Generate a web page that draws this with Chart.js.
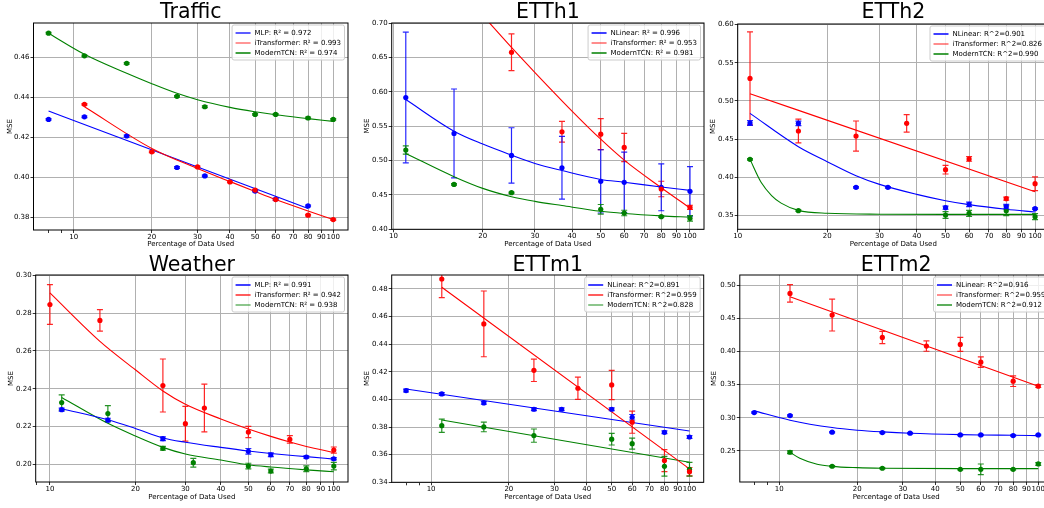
<!DOCTYPE html>
<html><head><meta charset="utf-8">
<script src="https://cdn.jsdelivr.net/npm/chart.js@4.4.1/dist/chart.umd.min.js"></script>
<style>
html,body{margin:0;padding:0;background:#fff;overflow:hidden;}
#wrap{position:relative;width:1044px;height:508px;overflow:hidden;background:#fff;}
#wrap canvas{position:absolute;}
</style></head><body><div id="wrap"></div>
<script>
// ================= DATA =================
const xTickValues = [8, 9, 10, 20, 30, 40, 50, 60, 70, 80, 90, 100];

// ---- Traffic ----
const trafficMlpX = [8, 11, 16, 25, 32, 50, 60, 80];
const trafficMlpY = [0.4290, 0.4303, 0.4207, 0.4050, 0.4008, 0.3932, 0.3892, 0.3858];
const trafficMlpErr = [0.0004, 0.0004, 0.0004, 0.0004, 0.0004, 0.0004, 0.0004, 0.0004];
const trafficMlpFitX = [8, 80];
const trafficMlpFitY = [0.4332, 0.3845];
const trafficItX = [11, 20, 30, 40, 50, 60, 80, 100];
const trafficItY = [0.4365, 0.4128, 0.4053, 0.3978, 0.3937, 0.3890, 0.3812, 0.3790];
const trafficItErr = [0.0004, 0.0004, 0.0004, 0.0004, 0.0004, 0.0004, 0.0004, 0.0004];
const trafficItFitX = [11, 20, 30, 40, 50, 60, 80, 100];
const trafficItFitY = [0.4353, 0.4145, 0.4045, 0.3980, 0.3930, 0.3890, 0.3833, 0.3790];
const trafficTcnX = [8, 11, 16, 25, 32, 50, 60, 80, 100];
const trafficTcnY = [0.4720, 0.4607, 0.4570, 0.4405, 0.4353, 0.4315, 0.4315, 0.4297, 0.4290];
const trafficTcnErr = [0.0004, 0.0004, 0.0004, 0.0004, 0.0004, 0.0004, 0.0004, 0.0004, 0.0004];
const trafficTcnFitX = [8, 11, 16, 20, 25, 30, 40, 50, 60, 80, 100];
const trafficTcnFitY = [0.4720, 0.4615, 0.4520, 0.4468, 0.4420, 0.4388, 0.4350, 0.4328, 0.4313, 0.4294, 0.4280];
const trafficLabels = ['MLP: R\u00B2 = 0.972', 'iTransformer: R\u00B2 = 0.993', 'ModernTCN: R\u00B2 = 0.974'];
const trafficYTicks = [0.38, 0.40, 0.42, 0.44, 0.46];

// ---- ETTh1 ----
const etth1NlX = [11, 16, 25, 37, 50, 60, 80, 100];
const etth1NlY = [0.5916, 0.5394, 0.5074, 0.4895, 0.4697, 0.4683, 0.4610, 0.4552];
const etth1NlErr = [0.0950, 0.0646, 0.0403, 0.0457, 0.0460, 0.0440, 0.0340, 0.0360];
const etth1NlFitX = [11, 16, 20, 25, 30, 37, 50, 60, 80, 100];
const etth1NlFitY = [0.5887, 0.5427, 0.5239, 0.5079, 0.4958, 0.4855, 0.4725, 0.4685, 0.4615, 0.4566];
const etth1ItX = [25, 37, 50, 60, 80, 100];
const etth1ItY = [0.6574, 0.5418, 0.5384, 0.5190, 0.4586, 0.4320];
const etth1ItErr = [0.0267, 0.0150, 0.0225, 0.0205, 0.0113, 0.0030];
const etth1ItFitX = [20, 25, 30, 40, 50, 60, 80, 100];
const etth1ItFitY = [0.7110, 0.6645, 0.6280, 0.5720, 0.5310, 0.5006, 0.4605, 0.4310];
const etth1TcnX = [11, 16, 25, 50, 60, 80, 100];
const etth1TcnY = [0.5152, 0.4653, 0.4532, 0.4291, 0.4237, 0.4184, 0.4160];
const etth1TcnErr = [0.0060, 0.0010, 0.0010, 0.0070, 0.0040, 0.0010, 0.0040];
const etth1TcnFitX = [11, 16, 20, 25, 30, 37, 50, 60, 80, 100];
const etth1TcnFitY = [0.5103, 0.4765, 0.4595, 0.4474, 0.4406, 0.4345, 0.4262, 0.4230, 0.4195, 0.4176];
const etth1Labels = ['NLinear: R\u00B2 = 0.996', 'iTransformer: R\u00B2 = 0.953', 'ModernTCN: R\u00B2 = 0.981'];
const etth1YTicks = [0.40, 0.45, 0.50, 0.55, 0.60, 0.65, 0.70];

// ---- ETTh2 ----
const etth2NlX = [11, 16, 25, 32, 50, 60, 80, 100];
const etth2NlY = [0.4711, 0.4706, 0.3867, 0.3867, 0.3600, 0.3644, 0.3614, 0.3587];
const etth2NlErr = [0.003, 0.003, 0.001, 0.001, 0.002, 0.003, 0.003, 0.001];
const etth2NlFitX = [11, 16, 20, 25, 30, 40, 50, 60, 80, 100];
const etth2NlFitY = [0.4837, 0.4400, 0.4204, 0.4020, 0.3906, 0.3775, 0.3692, 0.3640, 0.3579, 0.3544];
const etth2ItX = [11, 16, 25, 37, 50, 60, 80, 100];
const etth2ItY = [0.5296, 0.4606, 0.4540, 0.4706, 0.4099, 0.4239, 0.3718, 0.3915];
const etth2ItErr = [0.0610, 0.0155, 0.0197, 0.0114, 0.0057, 0.0030, 0.0020, 0.0090];
const etth2ItFitX = [11, 100];
const etth2ItFitY = [0.5095, 0.3810];
const etth2TcnX = [11, 16, 50, 60, 80, 100];
const etth2TcnY = [0.4234, 0.3561, 0.3504, 0.3526, 0.3561, 0.3483];
const etth2TcnErr = [0.0010, 0.0010, 0.0045, 0.0040, 0.0065, 0.0040];
const etth2TcnFitX = [11, 12, 13, 14, 16, 20, 30, 50, 100];
const etth2TcnFitY = [0.4234, 0.3930, 0.3760, 0.3660, 0.3565, 0.3527, 0.3515, 0.3513, 0.3513];
const etth2Labels = ['NLinear: R^2=0.901', 'iTransformer: R^2=0.826', 'ModernTCN: R^2=0.990'];
const etth2YTicks = [0.35, 0.40, 0.45, 0.50, 0.55, 0.60];

// ---- Weather ----
const weatherMlpX = [11, 16, 25, 50, 60, 80, 100];
const weatherMlpY = [0.2289, 0.2234, 0.2136, 0.2069, 0.2051, 0.2039, 0.2030];
const weatherMlpErr = [0.0008, 0.0010, 0.0010, 0.0015, 0.0010, 0.0006, 0.0006];
const weatherMlpFitX = [11, 16, 20, 25, 30, 40, 50, 60, 80, 100];
const weatherMlpFitY = [0.2294, 0.2236, 0.2190, 0.2140, 0.2117, 0.2090, 0.2071, 0.2058, 0.2041, 0.2028];
const weatherItX = [10, 15, 25, 30, 35, 50, 70, 100];
const weatherItY = [0.2845, 0.2761, 0.2417, 0.2215, 0.2298, 0.2171, 0.2132, 0.2076];
const weatherItErr = [0.0105, 0.0057, 0.0140, 0.0092, 0.0126, 0.0030, 0.0020, 0.0016];
const weatherItFitX = [10, 15, 20, 25, 30, 40, 50, 60, 70, 80, 100];
const weatherItFitY = [0.2906, 0.2650, 0.2500, 0.2388, 0.2318, 0.2240, 0.2187, 0.2148, 0.2118, 0.2095, 0.2063];
const weatherTcnX = [11, 16, 25, 32, 50, 60, 80, 100];
const weatherTcnY = [0.2327, 0.2269, 0.2085, 0.2009, 0.1991, 0.1965, 0.1977, 0.1991];
const weatherTcnErr = [0.0040, 0.0042, 0.0010, 0.0023, 0.0015, 0.0010, 0.0015, 0.0020];
const weatherTcnFitX = [11, 16, 20, 25, 30, 40, 50, 60, 80, 100];
const weatherTcnFitY = [0.2354, 0.2217, 0.2150, 0.2090, 0.2055, 0.2023, 0.1998, 0.1986, 0.1971, 0.1961];
const weatherLabels = ['MLP: R\u00B2 = 0.991', 'iTransformer: R\u00B2 = 0.942', 'ModernTCN: R\u00B2 = 0.938'];
const weatherYTicks = [0.20, 0.22, 0.24, 0.26, 0.28, 0.30];

// ---- ETTm1 ----
const ettm1NlX = [8, 11, 16, 25, 32, 50, 60, 80, 100];
const ettm1NlY = [0.4064, 0.4040, 0.3975, 0.3929, 0.3929, 0.3929, 0.3871, 0.3762, 0.3728];
const ettm1NlErr = [0.001, 0.001, 0.001, 0.001, 0.001, 0.001, 0.002, 0.001, 0.001];
const ettm1NlFitX = [8, 100];
const ettm1NlFitY = [0.4076, 0.3772];
const ettm1ItX = [11, 16, 25, 37, 50, 60, 80, 100];
const ettm1ItY = [0.4872, 0.4547, 0.4211, 0.4081, 0.4105, 0.3835, 0.3557, 0.3477];
const ettm1ItErr = [0.0135, 0.0238, 0.0081, 0.0080, 0.0106, 0.0080, 0.0080, 0.0030];
const ettm1ItFitX = [11, 100];
const ettm1ItFitY = [0.4812, 0.3497];
const ettm1TcnX = [11, 16, 25, 50, 60, 80, 100];
const ettm1TcnY = [0.3810, 0.3801, 0.3738, 0.3712, 0.3680, 0.3516, 0.3494];
const ettm1TcnErr = [0.0048, 0.0035, 0.0048, 0.0042, 0.0040, 0.0072, 0.0050];
const ettm1TcnFitX = [11, 100];
const ettm1TcnFitY = [0.3851, 0.3545];
const ettm1Labels = ['NLinear: R^2=0.891', 'iTransformer: R^2=0.959', 'ModernTCN: R^2=0.828'];
const ettm1YTicks = [0.34, 0.36, 0.38, 0.40, 0.42, 0.44, 0.46, 0.48];

// ---- ETTm2 ----
const ettm2NlX = [8, 11, 16, 25, 32, 50, 60, 80, 100];
const ettm2NlY = [0.3078, 0.3033, 0.2782, 0.2777, 0.2767, 0.2741, 0.2741, 0.2731, 0.2741];
const ettm2NlErr = [0.001, 0.001, 0.001, 0.001, 0.001, 0.001, 0.001, 0.001, 0.001];
const ettm2NlFitX = [8, 11, 16, 20, 25, 32, 50, 60, 80, 100];
const ettm2NlFitY = [0.3104, 0.2963, 0.2852, 0.2812, 0.2787, 0.2767, 0.2746, 0.2741, 0.2736, 0.2731];
const ettm2ItX = [11, 16, 25, 37, 50, 60, 80, 100];
const ettm2ItY = [0.4874, 0.4547, 0.4210, 0.4080, 0.4105, 0.3838, 0.3551, 0.3476];
const ettm2ItErr = [0.0133, 0.0240, 0.0093, 0.0078, 0.0105, 0.0078, 0.0080, 0.0020];
const ettm2ItFitX = [11, 100];
const ettm2ItFitY = [0.4824, 0.3476];
const ettm2TcnX = [11, 16, 25, 50, 60, 80, 100];
const ettm2TcnY = [0.2480, 0.2269, 0.2239, 0.2223, 0.2223, 0.2223, 0.2304];
const ettm2TcnErr = [0.002, 0.001, 0.001, 0.001, 0.008, 0.001, 0.002];
const ettm2TcnFitX = [11, 12, 14, 16, 20, 25, 50, 100];
const ettm2TcnFitY = [0.2480, 0.2390, 0.2300, 0.2268, 0.2248, 0.2239, 0.2233, 0.2233];
const ettm2Labels = ['NLinear: R^2=0.916', 'iTransformer: R^2=0.959', 'ModernTCN: R^2=0.912'];
const ettm2YTicks = [0.25, 0.30, 0.35, 0.40, 0.45, 0.50];

// ================= STYLE / LAYOUT =================
const BLUE = '#0000ff', RED = '#ff0000', GREEN = '#008000';
function rgba(hex, a) {
  const n = parseInt(hex.slice(1), 16);
  return 'rgba(' + ((n >> 16) & 255) + ',' + ((n >> 8) & 255) + ',' + (n & 255) + ',' + a + ')';
}
Chart.defaults.font.family = '"DejaVu Sans", sans-serif';
Chart.defaults.color = '#000';

function series(label, color, x, y, err, fitX, fitY, handleAlpha) {
  return {label, color, x, y, err, fitX, fitY, handleAlpha};
}

const panels = [
  { title: 'Traffic', xMin: 7.0, xMax: 114, yMin: 0.3738, yMax: 0.4771, yTicks: trafficYTicks,
    geom: {cl: 0, ct: 0, cw: 352, ch: 252, aL: 33.5, aR: 348, aT: 23, aB: 230, titleCY: 12.2, xLabelCY: 244.3, yLabelCX: 10},
    series: [
      series(trafficLabels[1], RED, trafficItX, trafficItY, trafficItErr, trafficItFitX, trafficItFitY, 0.55),
      series(trafficLabels[0], BLUE, trafficMlpX, trafficMlpY, trafficMlpErr, trafficMlpFitX, trafficMlpFitY, 0.85),
      series(trafficLabels[2], GREEN, trafficTcnX, trafficTcnY, trafficTcnErr, trafficTcnFitX, trafficTcnFitY, 1),
    ], legendOrder: [1, 0, 2] },
  { title: 'ETTh1', xMin: 9.86, xMax: 111.5, yMin: 0.40, yMax: 0.70, yTicks: etth1YTicks,
    geom: {cl: 355, ct: 0, cw: 352, ch: 252, aL: 391.7, aR: 704, aT: 23, aB: 229.3, titleCY: 12.3, xLabelCY: 244.3, yLabelCX: 367.3},
    series: [
      series(etth1Labels[1], RED, etth1ItX, etth1ItY, etth1ItErr, etth1ItFitX, etth1ItFitY, 0.6),
      series(etth1Labels[0], BLUE, etth1NlX, etth1NlY, etth1NlErr, etth1NlFitX, etth1NlFitY, 1),
      series(etth1Labels[2], GREEN, etth1TcnX, etth1TcnY, etth1TcnErr, etth1TcnFitX, etth1TcnFitY, 1),
    ], legendOrder: [1, 0, 2] },
  { title: 'ETTh2', xMin: 10, xMax: 111.4, yMin: 0.3317, yMax: 0.6009, yTicks: etth2YTicks,
    geom: {cl: 700, ct: 0, cw: 360, ch: 252, aL: 737.7, aR: 1049, aT: 24, aB: 229.3, titleCY: 12.3, xLabelCY: 244.3, yLabelCX: 713.3},
    series: [
      series(etth2Labels[1], RED, etth2ItX, etth2ItY, etth2ItErr, etth2ItFitX, etth2ItFitY, 0.6),
      series(etth2Labels[0], BLUE, etth2NlX, etth2NlY, etth2NlErr, etth2NlFitX, etth2NlFitY, 1),
      series(etth2Labels[2], GREEN, etth2TcnX, etth2TcnY, etth2TcnErr, etth2TcnFitX, etth2TcnFitY, 1),
    ], legendOrder: [1, 0, 2] },
  { title: 'Weather', xMin: 8.91, xMax: 112.2, yMin: 0.1907, yMax: 0.3001, yTicks: weatherYTicks,
    geom: {cl: 0, ct: 252, cw: 352, ch: 256, aL: 35.7, aR: 348, aT: 275, aB: 482, titleCY: 265.4, xLabelCY: 497.3, yLabelCX: 11},
    series: [
      series(weatherLabels[1], RED, weatherItX, weatherItY, weatherItErr, weatherItFitX, weatherItFitY, 0.85),
      series(weatherLabels[0], BLUE, weatherMlpX, weatherMlpY, weatherMlpErr, weatherMlpFitX, weatherMlpFitY, 1),
      series(weatherLabels[2], GREEN, weatherTcnX, weatherTcnY, weatherTcnErr, weatherTcnFitX, weatherTcnFitY, 0.6),
    ], legendOrder: [1, 0, 2] },
  { title: 'ETTm1', xMin: 7.04, xMax: 113.5, yMin: 0.34, yMax: 0.4901, yTicks: ettm1YTicks,
    geom: {cl: 355, ct: 252, cw: 352, ch: 256, aL: 391.7, aR: 703.7, aT: 275, aB: 482.3, titleCY: 265.4, xLabelCY: 497.3, yLabelCX: 367.3},
    series: [
      series(ettm1Labels[1], RED, ettm1ItX, ettm1ItY, ettm1ItErr, ettm1ItFitX, ettm1ItFitY, 0.85),
      series(ettm1Labels[0], BLUE, ettm1NlX, ettm1NlY, ettm1NlErr, ettm1NlFitX, ettm1NlFitY, 1),
      series(ettm1Labels[2], GREEN, ettm1TcnX, ettm1TcnY, ettm1TcnErr, ettm1TcnFitX, ettm1TcnFitY, 0.6),
    ], legendOrder: [1, 0, 2] },
  { title: 'ETTm2', xMin: 7.04, xMax: 113.5, yMin: 0.2032, yMax: 0.5151, yTicks: ettm2YTicks,
    geom: {cl: 700, ct: 252, cw: 360, ch: 256, aL: 739.8, aR: 1052.5, aT: 275, aB: 482, titleCY: 265.4, xLabelCY: 497.3, yLabelCX: 714},
    series: [
      series(ettm2Labels[1], RED, ettm2ItX, ettm2ItY, ettm2ItErr, ettm2ItFitX, ettm2ItFitY, 0.6),
      series(ettm2Labels[0], BLUE, ettm2NlX, ettm2NlY, ettm2NlErr, ettm2NlFitX, ettm2NlFitY, 1),
      series(ettm2Labels[2], GREEN, ettm2TcnX, ettm2TcnY, ettm2TcnErr, ettm2TcnFitX, ettm2TcnFitY, 0.85),
    ], legendOrder: [1, 0, 2] },
];

// ================= PLUGINS =================
const errorBarPlugin = {
  id: 'errorBars',
  beforeDatasetsDraw(chart) {
    const {ctx, chartArea: a} = chart;
    const xs = chart.scales.x, ys = chart.scales.y;
    ctx.save();
    ctx.beginPath(); ctx.rect(a.left, a.top, a.right - a.left, a.bottom - a.top); ctx.clip();
    chart.data.datasets.forEach(ds => {
      if (!ds.errors) return;
      ctx.strokeStyle = rgba(ds.errColor, 0.85);
      ctx.lineWidth = 1.2;
      ds.data.forEach((pt, i) => {
        const e = ds.errors[i];
        if (!e) return;
        const px = xs.getPixelForValue(pt.x);
        const p1 = ys.getPixelForValue(pt.y - e), p2 = ys.getPixelForValue(pt.y + e);
        ctx.beginPath();
        ctx.moveTo(px, p1); ctx.lineTo(px, p2);
        ctx.moveTo(px - 3, p1); ctx.lineTo(px + 3, p1);
        ctx.moveTo(px - 3, p2); ctx.lineTo(px + 3, p2);
        ctx.stroke();
      });
    });
    ctx.restore();
  }
};

const framePlugin = {
  id: 'frame',
  afterDatasetsDraw(chart) {
    const {ctx, chartArea: a} = chart;
    ctx.save();
    ctx.strokeStyle = '#000';
    ctx.lineWidth = 1;
    ctx.strokeRect(a.left, a.top, a.right - a.left, a.bottom - a.top);
    ctx.restore();
  }
};

const boxLegendPlugin = {
  id: 'boxLegend',
  afterDraw(chart, args, opts) {
    const items = opts.items || [];
    const {ctx, chartArea: a} = chart;
    ctx.save();
    ctx.font = '7px "DejaVu Sans"';
    let maxW = 0;
    items.forEach(it => { maxW = Math.max(maxW, ctx.measureText(it.label).width); });
    const pad = 3.5, handle = 15, gap = 4;
    const w = pad + handle + gap + maxW + pad;
    const h = 35;
    const right = a.right - 3.5, top = a.top + 2;
    const left = right - w;
    ctx.beginPath();
    if (ctx.roundRect) ctx.roundRect(left, top, w, h, 2); else ctx.rect(left, top, w, h);
    ctx.fillStyle = 'rgba(255,255,255,0.8)';
    ctx.fill();
    ctx.strokeStyle = '#cccccc';
    ctx.lineWidth = 1;
    ctx.stroke();
    items.forEach((it, i) => {
      const y = top + 8 + 10 * i;
      ctx.strokeStyle = rgba(it.color, it.alpha);
      ctx.lineWidth = 1.5;
      ctx.beginPath();
      ctx.moveTo(left + pad, y); ctx.lineTo(left + pad + handle, y);
      ctx.stroke();
      ctx.fillStyle = '#000';
      ctx.textBaseline = 'middle';
      ctx.textAlign = 'left';
      ctx.fillText(it.label, left + pad + handle + gap, y);
    });
    ctx.restore();
  }
};

// ================= BUILD =================
const wrap = document.getElementById('wrap');
function buildChart(p) {
  const g = p.geom;
  const cv = document.createElement('canvas');
  cv.width = g.cw; cv.height = g.ch;
  cv.style.left = g.cl + 'px'; cv.style.top = g.ct + 'px';
  cv.style.width = g.cw + 'px'; cv.style.height = g.ch + 'px';
  wrap.appendChild(cv);

  const datasets = [];
  p.series.forEach(s => {
    datasets.push({
      label: s.label,
      data: s.x.map((v, i) => ({x: v, y: s.y[i]})),
      errors: s.err, errColor: s.color,
      showLine: false, pointRadius: 2.6, pointHoverRadius: 2.6,
      pointBackgroundColor: s.color, pointBorderWidth: 0,
      borderColor: s.color, backgroundColor: s.color
    });
  });
  p.series.forEach(s => {
    datasets.push({
      label: s.label + ' fit',
      data: s.fitX.map((v, i) => ({x: v, y: s.fitY[i]})),
      showLine: true, pointRadius: 0, pointHoverRadius: 0,
      borderColor: s.color, borderWidth: 1.1,
      cubicInterpolationMode: 'monotone', fill: false
    });
  });

  const LH = 19, FS = 20.5;
  const padTop = Math.max(0, g.titleCY - g.ct - LH / 2);
  const padBottom = Math.max(0, (g.aT - g.ct) - LH - padTop);
  const legendItems = p.legendOrder.map(i => ({label: p.series[i].label, color: p.series[i].color, alpha: p.series[i].handleAlpha}));

  new Chart(cv, {
    type: 'line',
    data: {datasets},
    options: {
      responsive: false, animation: false, devicePixelRatio: 1, events: [],
      layout: {padding: {left: 0, top: 0, right: (g.cl + g.cw) - g.aR, bottom: 0}},
      plugins: {
        legend: {display: false},
        tooltip: {enabled: false},
        title: {display: true, text: p.title, fullSize: false, color: '#000',
                font: {size: FS, lineHeight: LH / FS, weight: 'normal'},
                padding: {top: padTop, bottom: padBottom}},
        boxLegend: {items: legendItems}
      },
      scales: {
        x: {
          type: 'logarithmic', position: 'bottom', min: p.xMin, max: p.xMax,
          afterBuildTicks: sc => { sc.ticks = xTickValues.filter(v => v >= p.xMin - 1e-9 && v <= p.xMax).map(v => ({value: v})); },
          afterFit: sc => { sc.height = (g.ct + g.ch) - g.aB; },
          ticks: {autoSkip: false, maxRotation: 0, minRotation: 0, padding: 0, color: '#000', font: {size: 7},
                  callback: v => (v >= 10 ? String(v) : '')},
          grid: {color: c => (c.tick && c.tick.value < 10) ? 'rgba(0,0,0,0)' : '#b0b0b0',
                 lineWidth: 1, tickLength: 3, tickColor: '#000', tickWidth: 0.8},
          border: {display: false},
          title: {display: true, text: 'Percentage of Data Used', color: '#000', font: {size: 7},
                  padding: {top: 0, bottom: (g.ct + g.ch) - g.xLabelCY - 4.2}}
        },
        y: {
          type: 'linear', position: 'left', min: p.yMin, max: p.yMax,
          afterBuildTicks: sc => { sc.ticks = p.yTicks.map(v => ({value: v})); },
          afterFit: sc => { sc.width = g.aL - g.cl; },
          ticks: {autoSkip: false, padding: 1, color: '#000', font: {size: 7},
                  callback: v => Number(v).toFixed(2)},
          grid: {color: '#b0b0b0', lineWidth: 1, tickLength: 3, tickColor: '#000', tickWidth: 0.8},
          border: {display: false},
          title: {display: true, text: 'MSE', color: '#000', font: {size: 7},
                  padding: {top: g.yLabelCX - g.cl - 4.2, bottom: 0}}
        }
      }
    },
    plugins: [errorBarPlugin, framePlugin, boxLegendPlugin]
  });
}
panels.forEach(buildChart);
</script>
</body></html>
